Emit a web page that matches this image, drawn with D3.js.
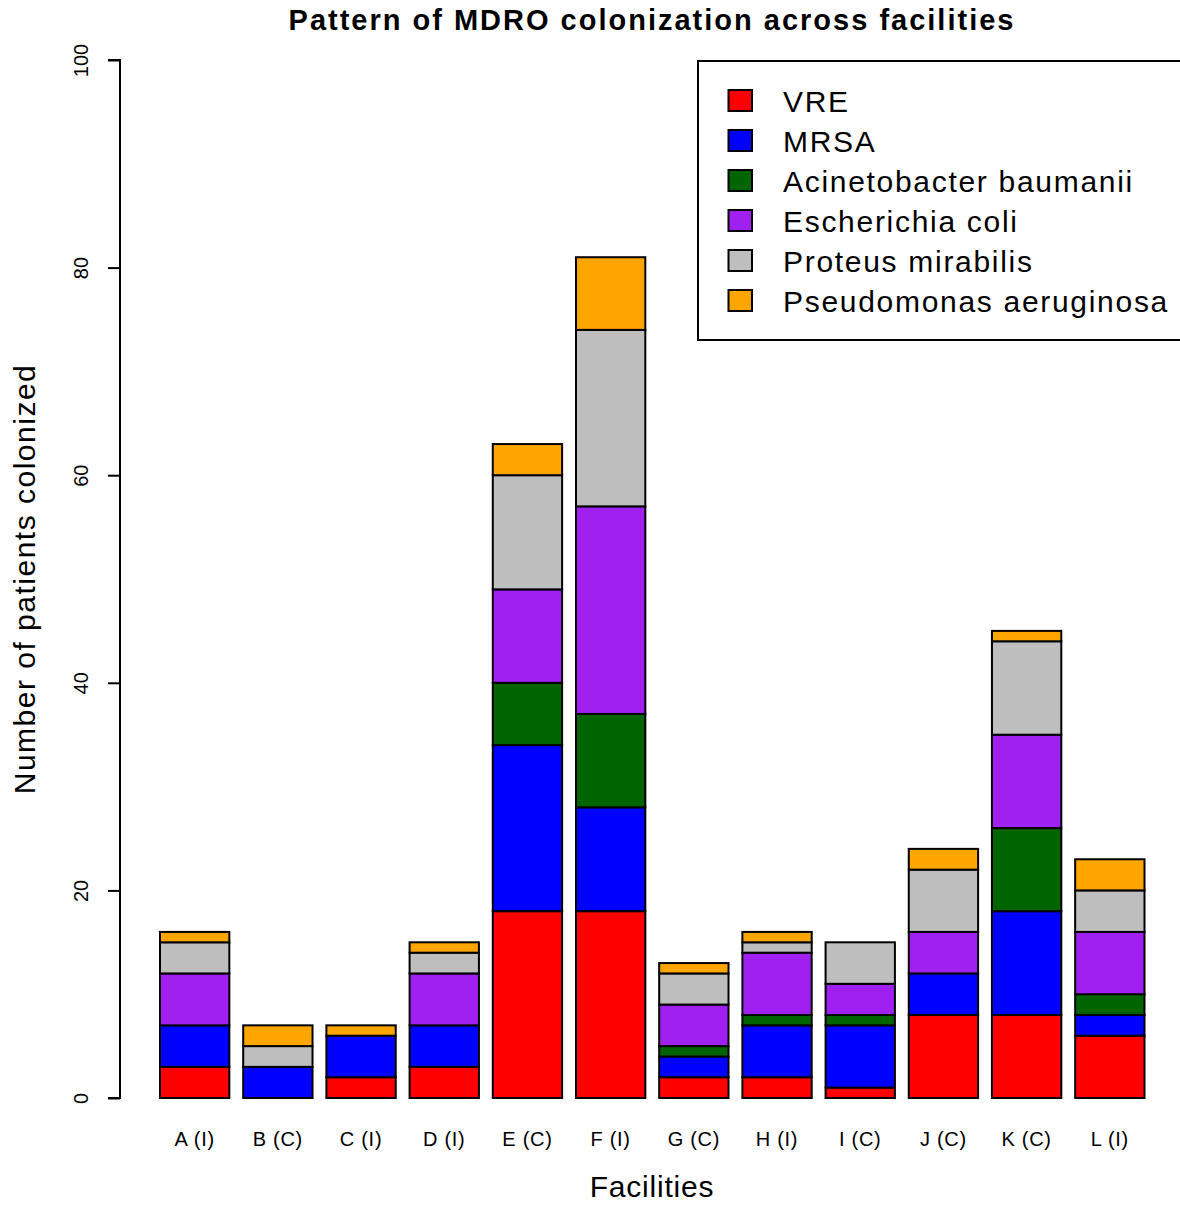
<!DOCTYPE html>
<html><head><meta charset="utf-8">
<script src="https://cdn.jsdelivr.net/npm/d3@7"></script>
<style>body{margin:0;background:#fff}svg{display:block;font-family:"Liberation Sans",Arial,Helvetica,sans-serif}</style>
</head><body><svg id="c" width="1180" height="1207"></svg>
<script>
const facilities = ["A (I)","B (C)","C (I)","D (I)","E (C)","F (I)","G (C)","H (I)","I (C)","J (C)","K (C)","L (I)"];
const organisms = ["VRE","MRSA","Acinetobacter baumanii","Escherichia coli","Proteus mirabilis","Pseudomonas aeruginosa"];
const colors = ["#FF0000","#0000FF","#006400","#A020F0","#BEBEBE","#FFA500"];
const VRE =        [3,0,2,3,18,18,2,2,1,8,8,6];
const MRSA =       [4,3,4,4,16,10,2,5,6,4,10,2];
const Acinetobacter = [0,0,0,0,6,9,1,1,1,0,8,2];
const Ecoli =      [5,0,0,5,9,20,4,6,3,4,9,6];
const Proteus =    [3,2,0,2,11,17,3,1,4,6,9,4];
const Pseudomonas =[1,2,1,1,3,7,1,1,0,2,1,3];
const yTicks = [0,20,40,60,80,100];

const series = [VRE,MRSA,Acinetobacter,Ecoli,Proteus,Pseudomonas];
const rows = facilities.map((f,i)=>{const o={facility:f};organisms.forEach((s,j)=>o[s]=series[j][i]);return o;});
const stacked = d3.stack().keys(organisms)(rows);

const svg = d3.select("#c");
const x = d3.scaleBand().domain(facilities).range([160,1144.5]).paddingInner(1/6).paddingOuter(0);
const y = d3.scaleLinear().domain([0,100]).range([1098,60]);

svg.append("g").selectAll("g").data(stacked).join("g")
  .attr("fill",(d,i)=>colors[i])
  .selectAll("rect").data(d=>d.filter(e=>e[1]-e[0]>0)).join("rect")
  .attr("x",d=>x(d.data.facility)).attr("width",x.bandwidth())
  .attr("y",d=>y(d[1])).attr("height",d=>y(d[0])-y(d[1]))
  .attr("stroke","#000").attr("stroke-width",2);

// y axis
const ya = svg.append("g").attr("transform","translate(120,0)")
  .call(d3.axisLeft(y).tickValues(yTicks).tickSize(12).tickFormat(d3.format("d")));
ya.select(".domain").attr("stroke-width",2).attr("d","M-12,60H0V1098H-12");
ya.selectAll(".tick line").attr("stroke-width",2);
ya.selectAll(".tick text").attr("font-size",20).attr("fill","#000")
  .attr("text-anchor","middle").attr("x",0).attr("y",0)
  .attr("transform","translate(-39,0) rotate(-90)").attr("dy","0.35em");

// x labels
svg.append("g").selectAll("text").data(facilities).join("text")
  .attr("x",d=>x(d)+x.bandwidth()/2).attr("y",1146).attr("text-anchor","middle")
  .attr("font-size",20).attr("letter-spacing",0.7).text(d=>d);

// titles
svg.append("text").attr("x",652).attr("y",30).attr("text-anchor","middle")
  .attr("font-size",29).attr("font-weight","bold").attr("letter-spacing",2)
  .text("Pattern of MDRO colonization across facilities");
svg.append("text").attr("x",652).attr("y",1197).attr("text-anchor","middle")
  .attr("font-size",30).attr("letter-spacing",0.8).text("Facilities");
svg.append("text").attr("transform","translate(35,579) rotate(-90)").attr("text-anchor","middle")
  .attr("font-size",30).attr("letter-spacing",1.5).text("Number of patients colonized");

// legend
const lg = svg.append("g");
lg.append("rect").attr("x",698).attr("y",61).attr("width",500).attr("height",279)
  .attr("fill","#fff").attr("stroke","#000").attr("stroke-width",2);
organisms.forEach((o,i)=>{
  const cy = 100.5 + i*40;
  lg.append("rect").attr("x",728.5).attr("y",cy-10.5).attr("width",23.5).attr("height",21)
    .attr("fill",colors[i]).attr("stroke","#000").attr("stroke-width",2);
  lg.append("text").attr("x",783).attr("y",cy+11).attr("font-size",30)
    .attr("letter-spacing",1.7).text(o);
});
</script></body></html>
